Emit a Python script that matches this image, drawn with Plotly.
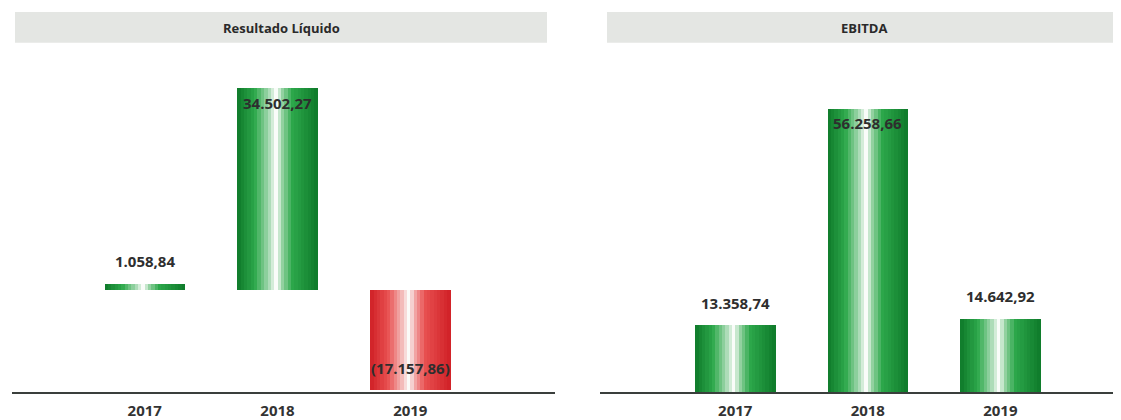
import plotly.graph_objects as go

# ---- data ----
years = ["2017", "2018", "2019"]
resultado_liquido = [1058.84, 34502.27, -17157.86]
ebitda = [13358.74, 56258.66, 14642.92]
titles = ["Resultado Líquido", "EBITDA"]

# page body has an 8px margin: figure drawn from (8, 8)
OFF = 8
W, H = 1121 - OFF, 420 - OFF


def fmt_br(v):
    s = f"{abs(v):,.2f}".replace(",", "X").replace(".", ",").replace("X", ".")
    return f"({s})" if v < 0 else s


def lerp(c1, c2, t):
    return tuple(int(round(a + (b - a) * t)) for a, b in zip(c1, c2))


def profile(t, dark, mid):
    white = (250, 252, 250)
    stops = [(0.0, dark), (0.22, mid), (0.38, lerp(mid, white, 0.55)), (0.48, white),
             (0.56, lerp(mid, white, 0.5)), (0.68, mid), (1.0, dark)]
    for (t0, c0), (t1, c1) in zip(stops[:-1], stops[1:]):
        if t0 <= t <= t1:
            return lerp(c0, c1, (t - t0) / (t1 - t0))
    return dark


GREEN = ((14, 122, 42), (45, 168, 75))
RED = ((208, 32, 38), (232, 80, 80))

fig = go.Figure()

N = 24
BW = 0.604


def add_bars(values, xaxis, yaxis):
    for i in range(N):
        t = (i + 0.5) / N
        colors = []
        for v in values:
            d, m = GREEN if v >= 0 else RED
            colors.append(f"rgb{profile(t, d, m)}")
        fig.add_trace(go.Bar(
            x=years, y=values, xaxis=xaxis, yaxis=yaxis,
            width=BW / N * 1.08, offset=-BW / 2 + i * BW / N,
            marker=dict(color=colors, line=dict(width=0)),
            hoverinfo="skip", showlegend=False,
        ))


add_bars(resultado_liquido, "x", "y")
add_bars(ebitda, "x2", "y2")


def px_x(p):
    return (p - OFF) / W


def px_y(p):
    return (H - (p - OFF)) / H


ydom = [px_y(394), px_y(60)]
tickfont = dict(size=15, family="Open Sans", weight="bold", color="#333333")

fig.update_layout(
    width=W, height=H, barmode="overlay", bargap=0,
    margin=dict(l=0, r=0, t=0, b=0),
    plot_bgcolor="white", paper_bgcolor="white",
    font=dict(family="Open Sans, Lato, sans-serif", color="#333333"),
    xaxis=dict(type="category", domain=[px_x(12), px_x(555)], range=[-1.0, 3.09],
               showgrid=False, showline=True, linecolor="#3a3f3c", linewidth=2, ticks="",
               tickfont=tickfont, ticklabelstandoff=4, zeroline=False),
    yaxis=dict(domain=ydom, range=[-17517, 39286], visible=False, showgrid=False,
               zeroline=False),
    xaxis2=dict(type="category", domain=[px_x(600), 1.0], range=[-1.02, 2.91],
                showgrid=False, showline=True, linecolor="#3a3f3c", linewidth=2, ticks="",
                tickfont=tickfont, ticklabelstandoff=4, zeroline=False, anchor="y2"),
    yaxis2=dict(domain=ydom, range=[0, 65878], visible=False, showgrid=False,
                zeroline=False, anchor="x2"),
)

# title bars
for (x0, x1), title in zip([(15, 547), (607, 1121)], titles):
    fig.add_shape(type="rect", xref="paper", yref="paper",
                  x0=px_x(x0), x1=px_x(x1), y0=px_y(43), y1=px_y(12),
                  fillcolor="#e4e6e3", line=dict(width=0), layer="below")
    fig.add_annotation(xref="paper", yref="paper", x=px_x((x0 + x1) / 2), y=px_y(28),
                       text=f"<b>{title}</b>", showarrow=False,
                       font=dict(size=13, family="Open Sans", color="#2a2a2a"),
                       xanchor="center", yanchor="middle")


# data labels
def add_labels(values, xref, yref, inside_idx):
    for i, v in enumerate(values):
        if i in inside_idx:
            shift = -15 if v > 0 else 22
        else:
            shift = 22
        fig.add_annotation(x=i, y=v, xref=xref, yref=yref, text=f"<b>{fmt_br(v)}</b>",
                           showarrow=False, yshift=shift, yanchor="middle",
                           font=dict(size=15, family="Open Sans", color="#2e2e2e"))


add_labels(resultado_liquido, "x", "y", {1, 2})
add_labels(ebitda, "x2", "y2", {1})

fig.write_html("out.html")
